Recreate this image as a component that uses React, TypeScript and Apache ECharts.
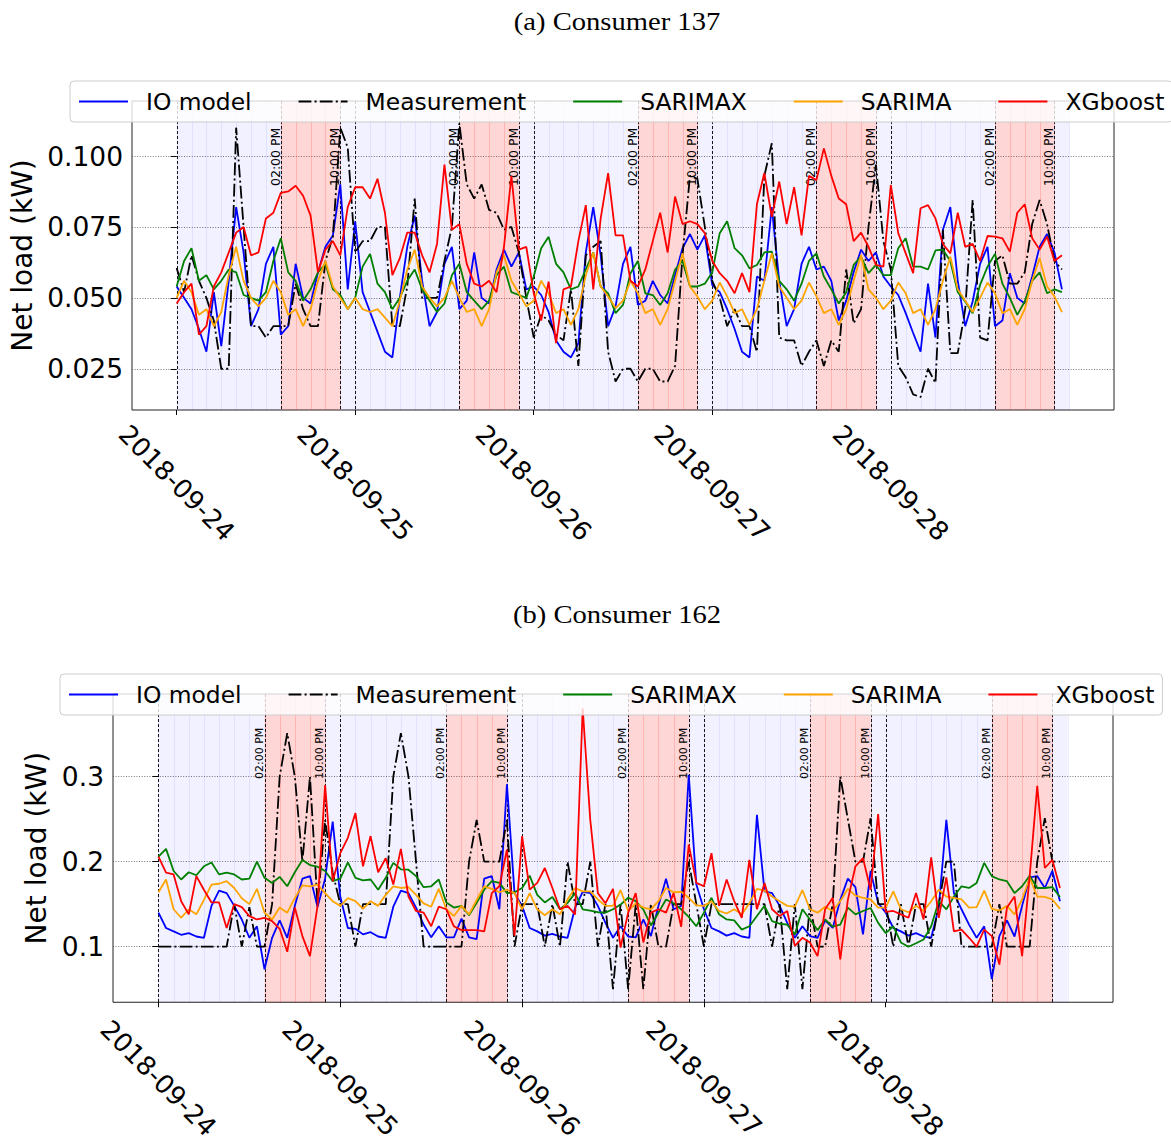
import React, { useEffect, useRef } from 'react';
import * as echarts from 'echarts';

// ---------- data ----------
const dayStarts = [0, 24, 48, 72, 96];
const dateLabels = ['2018-09-24', '2018-09-25', '2018-09-26', '2018-09-27', '2018-09-28'];
const peakStart = 14;
const peakEnd = 22;
const totalHours = 120;
const peakLabels = ['02:00 PM', '10:00 PM'];
const seriesNames = ['IO model', 'Measurement', 'SARIMAX', 'SARIMA', 'XGboost'];
const titles = ['(a) Consumer 137', '(b) Consumer 162'];
const yTicks137 = [0.025, 0.05, 0.075, 0.1];
const yTicks162 = [0.1, 0.2, 0.3];

const io137 = [
  0.054, 0.050, 0.046, 0.039, 0.031, 0.052, 0.033, 0.056, 0.082, 0.066,
  0.040, 0.046, 0.062, 0.068, 0.037, 0.040, 0.062, 0.050, 0.048, 0.059,
  0.068, 0.072, 0.090, 0.053, 0.077, 0.052, 0.045, 0.038, 0.031, 0.029,
  0.050, 0.068, 0.079, 0.056, 0.040, 0.045, 0.062, 0.068, 0.046, 0.049,
  0.066, 0.050, 0.048, 0.060, 0.067, 0.061, 0.066, 0.053, 0.054, 0.051,
  0.045, 0.035, 0.031, 0.029, 0.034, 0.066, 0.082, 0.065, 0.040, 0.047,
  0.062, 0.068, 0.0475, 0.049, 0.056, 0.051, 0.048, 0.058, 0.0675, 0.0725,
  0.067, 0.072, 0.0545, 0.052, 0.046, 0.039, 0.031, 0.029, 0.0575, 0.056,
  0.082, 0.056, 0.040, 0.046, 0.062, 0.068, 0.060, 0.061, 0.056, 0.042,
  0.049, 0.059, 0.067, 0.063, 0.066, 0.0575, 0.054, 0.051, 0.0446, 0.0376,
  0.031, 0.055, 0.036, 0.074, 0.082, 0.056, 0.040, 0.0487, 0.062, 0.068,
  0.040, 0.042, 0.0587, 0.050, 0.048, 0.0575, 0.068, 0.0725, 0.066, 0.053,
];
const meas137 = [
  0.0605, 0.052, 0.065, 0.056, 0.050, 0.042, 0.025, 0.025, 0.110, 0.075,
  0.040, 0.040, 0.036, 0.040, 0.040, 0.040, 0.055, 0.046, 0.040, 0.040,
  0.063, 0.0715, 0.110, 0.103, 0.066, 0.070, 0.070, 0.075, 0.075, 0.040,
  0.040, 0.054, 0.085, 0.050, 0.050, 0.050, 0.063, 0.075, 0.1115, 0.090,
  0.085, 0.090, 0.081, 0.080, 0.074, 0.075, 0.066, 0.050, 0.036, 0.044,
  0.042, 0.037, 0.035, 0.053, 0.026, 0.065, 0.068, 0.070, 0.031, 0.0205,
  0.025, 0.025, 0.0205, 0.025, 0.025, 0.0205, 0.0205, 0.026, 0.065, 0.093,
  0.092, 0.075, 0.056, 0.050, 0.040, 0.046, 0.040, 0.040, 0.031, 0.093,
  0.1045, 0.036, 0.035, 0.035, 0.026, 0.031, 0.035, 0.026, 0.035, 0.031,
  0.060, 0.041, 0.046, 0.075, 0.097, 0.070, 0.060, 0.026, 0.022, 0.016,
  0.015, 0.025, 0.020, 0.074, 0.0305, 0.0305, 0.046, 0.0845, 0.036, 0.035,
  0.063, 0.065, 0.055, 0.055, 0.059, 0.076, 0.0845, 0.076, 0.063, 0.060,
];
const sarimax137 = [
  0.054, 0.063, 0.0675, 0.056, 0.058, 0.053, 0.056, 0.060, 0.059, 0.051,
  0.050, 0.049, 0.052, 0.063, 0.071, 0.059, 0.056, 0.049, 0.053, 0.059,
  0.062, 0.053, 0.051, 0.046, 0.050, 0.061, 0.0655, 0.055, 0.052, 0.046,
  0.050, 0.056, 0.060, 0.053, 0.049, 0.045, 0.048, 0.058, 0.062, 0.052,
  0.049, 0.046, 0.049, 0.058, 0.061, 0.052, 0.051, 0.050, 0.0575, 0.0675,
  0.0715, 0.062, 0.059, 0.053, 0.054, 0.060, 0.066, 0.054, 0.0516, 0.0446,
  0.0475, 0.0587, 0.063, 0.0516, 0.051, 0.0475, 0.0516, 0.060, 0.063, 0.054,
  0.054, 0.055, 0.059, 0.0728, 0.077, 0.0675, 0.065, 0.0604, 0.0616, 0.066,
  0.0663, 0.056, 0.053, 0.049, 0.055, 0.063, 0.0657, 0.0575, 0.053, 0.048,
  0.052, 0.0616, 0.0645, 0.0587, 0.0616, 0.058, 0.058, 0.0675, 0.071, 0.061,
  0.061, 0.060, 0.0667, 0.067, 0.063, 0.052, 0.0487, 0.0446, 0.0546, 0.061,
  0.0655, 0.055, 0.050, 0.044, 0.0487, 0.056, 0.059, 0.0516, 0.053, 0.052,
];
const sarima137 = [
  0.050, 0.056, 0.052, 0.044, 0.046, 0.040, 0.045, 0.058, 0.068, 0.056,
  0.050, 0.047, 0.050, 0.056, 0.052, 0.044, 0.046, 0.040, 0.046, 0.056,
  0.063, 0.054, 0.050, 0.046, 0.050, 0.046, 0.045, 0.046, 0.043, 0.040,
  0.049, 0.060, 0.067, 0.054, 0.050, 0.047, 0.050, 0.056, 0.050, 0.045,
  0.046, 0.040, 0.046, 0.059, 0.065, 0.056, 0.0516, 0.047, 0.049, 0.056,
  0.0516, 0.0446, 0.046, 0.0405, 0.046, 0.058, 0.066, 0.054, 0.0505, 0.0464,
  0.049, 0.056, 0.0516, 0.0446, 0.046, 0.0405, 0.046, 0.056, 0.0657, 0.054,
  0.0505, 0.046, 0.049, 0.0554, 0.0505, 0.0446, 0.046, 0.0405, 0.046, 0.056,
  0.0657, 0.054, 0.050, 0.046, 0.049, 0.0554, 0.0505, 0.0446, 0.046, 0.0405,
  0.046, 0.056, 0.065, 0.053, 0.050, 0.046, 0.049, 0.0554, 0.0516, 0.0446,
  0.046, 0.0405, 0.046, 0.056, 0.0645, 0.053, 0.049, 0.045, 0.050, 0.0554,
  0.0516, 0.0446, 0.046, 0.0405, 0.046, 0.056, 0.064, 0.054, 0.0505, 0.045,
];
const xgb137 = [
  0.048, 0.052, 0.055, 0.037, 0.040, 0.054, 0.059, 0.066, 0.073, 0.075,
  0.065, 0.066, 0.078, 0.080, 0.087, 0.0875, 0.0895, 0.086, 0.079, 0.059,
  0.067, 0.070, 0.065, 0.082, 0.089, 0.089, 0.085, 0.092, 0.080, 0.058,
  0.064, 0.073, 0.073, 0.065, 0.059, 0.069, 0.097, 0.074, 0.076, 0.062,
  0.055, 0.054, 0.056, 0.052, 0.068, 0.093, 0.067, 0.068, 0.0516, 0.042,
  0.0557, 0.034, 0.053, 0.054, 0.070, 0.0827, 0.053, 0.078, 0.094, 0.072,
  0.072, 0.056, 0.054, 0.060, 0.070, 0.080, 0.066, 0.0857, 0.076, 0.077,
  0.076, 0.0728, 0.063, 0.0587, 0.056, 0.0516, 0.0587, 0.052, 0.083, 0.094,
  0.0786, 0.091, 0.076, 0.089, 0.072, 0.093, 0.0915, 0.1027, 0.093, 0.085,
  0.083, 0.070, 0.073, 0.068, 0.0616, 0.061, 0.0898, 0.0728, 0.0657, 0.0587,
  0.0816, 0.0827, 0.078, 0.069, 0.0657, 0.080, 0.068, 0.069, 0.063, 0.0718,
  0.0716, 0.071, 0.0663, 0.080, 0.083, 0.071, 0.067, 0.0716, 0.063, 0.065,
];

const io162 = [
  0.140, 0.122, 0.118, 0.114, 0.116, 0.112, 0.1105, 0.148, 0.166, 0.163,
  0.148, 0.132, 0.1105, 0.124, 0.0735, 0.1105, 0.131, 0.1105, 0.148, 0.180,
  0.183, 0.1465, 0.180, 0.247, 0.159, 0.122, 0.121, 0.1145, 0.117, 0.112,
  0.1105, 0.147, 0.166, 0.163, 0.146, 0.126, 0.111, 0.124, 0.111, 0.111,
  0.133, 0.111, 0.109, 0.180, 0.183, 0.144, 0.291, 0.163, 0.148, 0.122,
  0.118, 0.113, 0.115, 0.112, 0.1105, 0.146, 0.1645, 0.163, 0.148, 0.128,
  0.1105, 0.124, 0.112, 0.111, 0.132, 0.1125, 0.148, 0.180, 0.144, 0.148,
  0.302, 0.173, 0.144, 0.122, 0.118, 0.113, 0.116, 0.112, 0.1105, 0.255,
  0.165, 0.163, 0.148, 0.128, 0.1105, 0.124, 0.1125, 0.1105, 0.131, 0.122,
  0.155, 0.180, 0.170, 0.1145, 0.189, 0.1515, 0.140, 0.122, 0.118, 0.113,
  0.116, 0.112, 0.1105, 0.146, 0.249, 0.163, 0.144, 0.126, 0.1105, 0.124,
  0.062, 0.1125, 0.131, 0.112, 0.148, 0.1815, 0.183, 0.169, 0.189, 0.1535,
];
const meas162 = [
  0.10, 0.10, 0.10, 0.10, 0.10, 0.10, 0.10, 0.10, 0.10, 0.10,
  0.150, 0.10, 0.1465, 0.10, 0.10, 0.150, 0.30, 0.351, 0.30, 0.20,
  0.30, 0.15, 0.249, 0.187, 0.15, 0.15, 0.10, 0.15, 0.15, 0.15,
  0.15, 0.30, 0.351, 0.30, 0.20, 0.10, 0.10, 0.10, 0.10, 0.10,
  0.10, 0.20, 0.249, 0.20, 0.20, 0.20, 0.249, 0.10, 0.15, 0.15,
  0.15, 0.10, 0.15, 0.10, 0.20, 0.15, 0.15, 0.20, 0.10, 0.15,
  0.05, 0.15, 0.05, 0.15, 0.05, 0.15, 0.10, 0.10, 0.15, 0.15,
  0.20, 0.15, 0.10, 0.15, 0.15, 0.15, 0.15, 0.15, 0.15, 0.15,
  0.15, 0.10, 0.15, 0.05, 0.15, 0.05, 0.15, 0.10, 0.10, 0.15,
  0.30, 0.25, 0.20, 0.20, 0.251, 0.15, 0.15, 0.10, 0.15, 0.10,
  0.15, 0.15, 0.10, 0.15, 0.20, 0.20, 0.10, 0.10, 0.10, 0.10,
  0.10, 0.15, 0.10, 0.10, 0.10, 0.10, 0.20, 0.251, 0.20, 0.20,
];
const sarimax162 = [
  0.206, 0.215, 0.189, 0.179, 0.1875, 0.184, 0.1945, 0.199, 0.185, 0.187,
  0.185, 0.179, 0.180, 0.200, 0.181, 0.175, 0.182, 0.171, 0.1875, 0.202,
  0.196, 0.194, 0.189, 0.177, 0.180, 0.199, 0.181, 0.178, 0.179, 0.167,
  0.181, 0.1985, 0.191, 0.1905, 0.183, 0.170, 0.171, 0.179, 0.152, 0.146,
  0.148, 0.137, 0.1515, 0.167, 0.177, 0.175, 0.163, 0.164, 0.169, 0.1835,
  0.161, 0.152, 0.1585, 0.144, 0.1515, 0.163, 0.144, 0.1425, 0.1405, 0.140,
  0.144, 0.1495, 0.1575, 0.1535, 0.144, 0.125, 0.140, 0.1555, 0.151, 0.144,
  0.135, 0.124, 0.140, 0.1575, 0.138, 0.132, 0.131, 0.120, 0.124, 0.136,
  0.148, 0.130, 0.127, 0.126, 0.1145, 0.144, 0.132, 0.1195, 0.132, 0.1235,
  0.126, 0.146, 0.138, 0.142, 0.1455, 0.128, 0.116, 0.124, 0.105, 0.100,
  0.104, 0.1085, 0.124, 0.1535, 0.144, 0.159, 0.171, 0.169, 0.175, 0.1985,
  0.183, 0.179, 0.177, 0.163, 0.171, 0.1835, 0.169, 0.169, 0.170, 0.1585,
];
const sarima162 = [
  0.164, 0.179, 0.144, 0.134, 0.144, 0.138, 0.155, 0.173, 0.174, 0.177,
  0.169, 0.157, 0.150, 0.168, 0.140, 0.132, 0.146, 0.140, 0.157, 0.172,
  0.171, 0.173, 0.163, 0.1535, 0.148, 0.157, 0.1535, 0.1445, 0.1535, 0.148,
  0.161, 0.171, 0.169, 0.170, 0.161, 0.151, 0.147, 0.168, 0.144, 0.136,
  0.148, 0.138, 0.155, 0.171, 0.168, 0.164, 0.167, 0.163, 0.144, 0.163,
  0.144, 0.137, 0.144, 0.138, 0.1555, 0.169, 0.165, 0.165, 0.1555, 0.148,
  0.148, 0.1665, 0.142, 0.151, 0.146, 0.144, 0.1535, 0.169, 0.164, 0.1645,
  0.1575, 0.1485, 0.148, 0.1535, 0.142, 0.139, 0.144, 0.138, 0.151, 0.168,
  0.166, 0.159, 0.1535, 0.148, 0.147, 0.1665, 0.144, 0.140, 0.147, 0.142,
  0.1535, 0.168, 0.160, 0.1575, 0.1555, 0.146, 0.146, 0.165, 0.144, 0.1405,
  0.148, 0.142, 0.1535, 0.167, 0.159, 0.1575, 0.1555, 0.146, 0.1465, 0.166,
  0.1445, 0.1425, 0.148, 0.138, 0.1555, 0.181, 0.159, 0.1585, 0.1555, 0.1445,
];
const xgb162 = [
  0.206, 0.187, 0.185, 0.1535, 0.138, 0.183, 0.167, 0.152, 0.152, 0.122,
  0.150, 0.1465, 0.136, 0.132, 0.134, 0.130, 0.121, 0.094, 0.146, 0.1125,
  0.089, 0.148, 0.290, 0.177, 0.210, 0.228, 0.257, 0.1945, 0.230, 0.1875,
  0.204, 0.173, 0.215, 0.159, 0.142, 0.140, 0.124, 0.147, 0.144, 0.124,
  0.1195, 0.1195, 0.1195, 0.118, 0.163, 0.171, 0.214, 0.113, 0.230, 0.167,
  0.175, 0.1925, 0.169, 0.144, 0.148, 0.138, 0.380, 0.249, 0.163, 0.151,
  0.168, 0.099, 0.140, 0.163, 0.105, 0.140, 0.144, 0.140, 0.163, 0.1235,
  0.220, 0.175, 0.171, 0.210, 0.148, 0.179, 0.1535, 0.134, 0.202, 0.144,
  0.175, 0.144, 0.136, 0.142, 0.101, 0.1105, 0.105, 0.089, 0.144, 0.1575,
  0.085, 0.155, 0.1945, 0.204, 0.167, 0.256, 0.141, 0.142, 0.138, 0.134,
  0.163, 0.132, 0.205, 0.134, 0.1815, 0.118, 0.120, 0.1105, 0.100, 0.120,
  0.1125, 0.079, 0.146, 0.159, 0.089, 0.183, 0.289, 0.1925, 0.202, 0.169,
];

// ---------- styling ----------
const FONT = 'DejaVu Sans';
const colors = ['#0000ff', '#000000', '#008000', '#ffa500', '#ff0000'];
const lineTypes: any[] = ['solid', [12.8, 3.2, 2, 3.2], 'solid', 'solid', 'solid'];

const panels = [
  {
    grid: { left: 132, top: 101, width: 982, height: 309 },
    yMin: 0.01046, yMax: 0.1194, yTicks: yTicks137, digits: 3, nameGap: 92,
    data: [io137, meas137, sarimax137, sarima137, xgb137],
    legend: { left: 70, top: 81 }, labelMargin: 73, vFont: 12.5, vOffset: 6.5,
    titleY: 21,
  },
  {
    grid: { left: 113, top: 694, width: 1000, height: 309 },
    yMin: 0.0347, yMax: 0.397, yTicks: yTicks162, digits: 1, nameGap: 56,
    data: [io162, meas162, sarimax162, sarima162, xgb162],
    legend: { left: 60, top: 674 }, labelMargin: 76, vFont: 11, vOffset: 6,
    titleY: 614,
  },
];

// shading spans (start, end) in hours
const redSpans = dayStarts.map((d) => [d + peakStart, d + peakEnd]);
const blueSpans: number[][] = [];
{
  let s = 0;
  redSpans.forEach(([a, b]) => { blueSpans.push([s, a]); s = b; });
  blueSpans.push([s, totalHours]);
}
const vLines: number[][] = [];
dayStarts.forEach((d) => {
  vLines.push([d, -1]);
  vLines.push([d + peakStart, 0]);
  vLines.push([d + peakEnd, 1]);
});

function spanSeries(gi: number, yRef: number, spans: number[][], fill: string, edge: string) {
  return {
    type: 'custom',
    xAxisIndex: gi,
    yAxisIndex: gi,
    silent: true,
    z: 1,
    data: spans,
    renderItem: (params: any, api: any) => {
      const cs = params.coordSys;
      const s = api.value(0);
      const e = api.value(1);
      const x0 = api.coord([s, yRef])[0];
      const x1 = api.coord([e, yRef])[0];
      const children: any[] = [
        { type: 'rect', shape: { x: x0, y: cs.y, width: x1 - x0, height: cs.height }, style: { fill } },
      ];
      for (let h = s; h <= e; h += 2) {
        const x = Math.round(api.coord([h, yRef])[0]) + 0.5;
        children.push({
          type: 'line',
          shape: { x1: x, y1: cs.y, x2: x, y2: cs.y + cs.height },
          style: { stroke: edge, lineWidth: 1 },
        });
      }
      return { type: 'group', children };
    },
  };
}

function vLineSeries(gi: number, yRef: number, fontSize: number, offset: number) {
  return {
    type: 'custom',
    xAxisIndex: gi,
    yAxisIndex: gi,
    silent: true,
    z: 2,
    data: vLines,
    renderItem: (params: any, api: any) => {
      const cs = params.coordSys;
      const h = api.value(0);
      const li = api.value(1);
      const x = Math.round(api.coord([h, yRef])[0]) + 0.5;
      const children: any[] = [
        {
          type: 'line',
          shape: { x1: x, y1: cs.y, x2: x, y2: cs.y + cs.height },
          style: { stroke: '#000', lineWidth: 0.9, lineDash: [3, 2] },
        },
      ];
      if (li >= 0) {
        children.push({
          type: 'text',
          x: x - offset,
          y: cs.y + 85,
          rotation: Math.PI / 2,
          style: {
            text: peakLabels[li],
            fontSize,
            fontFamily: FONT,
            fill: '#000',
            align: 'left',
            verticalAlign: 'middle',
          },
        });
      }
      return { type: 'group', children };
    },
  };
}

function buildOption() {
  const series: any[] = [];
  panels.forEach((p, gi) => {
    series.push(spanSeries(gi, p.yMin, blueSpans, 'rgba(0,0,255,0.055)', 'rgba(0,0,255,0.07)'));
    series.push(spanSeries(gi, p.yMin, redSpans, 'rgba(255,0,0,0.16)', 'rgba(255,0,0,0.16)'));
    series.push(vLineSeries(gi, p.yMin, p.vFont, p.vOffset));
    seriesNames.forEach((name, si) => {
      series.push({
        type: 'line',
        name,
        xAxisIndex: gi,
        yAxisIndex: gi,
        data: p.data[si].map((v, i) => [i, v]),
        symbol: 'none',
        silent: true,
        z: 3,
        lineStyle: { color: colors[si], width: 1.8, type: lineTypes[si] },
        itemStyle: { color: colors[si] },
      });
    });
  });

  return {
    animation: false,
    backgroundColor: '#ffffff',
    grid: panels.map((p) => ({
      ...p.grid,
      show: true,
      borderColor: '#222',
      borderWidth: 1,
      backgroundColor: 'rgba(0,0,0,0)',
    })),
    xAxis: panels.map((p, i) => ({
      type: 'value',
      gridIndex: i,
      min: -6,
      max: 126,
      axisLine: { show: false },
      splitLine: { show: false },
      axisTick: { show: true, customValues: dayStarts, length: 5, lineStyle: { color: '#000', width: 1 } },
      axisLabel: {
        customValues: dayStarts,
        formatter: (v: number) => dateLabels[Math.round(v / 24)],
        rotate: -45,
        align: 'center',
        verticalAlign: 'middle',
        margin: p.labelMargin,
        fontSize: 26,
        fontFamily: FONT,
        color: '#000',
      },
    })),
    yAxis: panels.map((p, i) => ({
      type: 'value',
      gridIndex: i,
      min: p.yMin,
      max: p.yMax,
      name: 'Net load (kW)',
      nameLocation: 'middle',
      nameGap: p.nameGap,
      nameTextStyle: { fontSize: 28, fontFamily: FONT, color: '#000' },
      axisLine: { show: false },
      axisTick: { show: true, customValues: p.yTicks, length: 6, lineStyle: { color: '#000', width: 1 } },
      axisLabel: {
        customValues: p.yTicks,
        formatter: (v: number) => v.toFixed(p.digits),
        margin: 9,
        fontSize: 26.5,
        fontFamily: FONT,
        color: '#000',
      },
      splitLine: { show: true, lineStyle: { color: '#555', width: 0.8, type: [1, 1.6] } },
    })),
    legend: panels.map((p) => ({
      data: seriesNames,
      left: p.legend.left,
      top: p.legend.top,
      width: 1160,
      orient: 'horizontal',
      itemWidth: 49,
      itemHeight: 14,
      itemGap: 46,
      padding: [6, 8, 6, 8],
      backgroundColor: 'rgba(255,255,255,0.8)',
      borderColor: '#cccccc',
      borderWidth: 1,
      borderRadius: 4,
      selectedMode: false,
      itemStyle: { opacity: 0 },
      textStyle: { fontSize: 23.4, fontFamily: FONT, color: '#000', padding: [0, 0, 0, 13], lineHeight: 29 },
    })),
    graphic: panels.map((p, i) => ({
      type: 'text',
      x: 617,
      y: p.titleY,
      scaleX: 1.1,
      style: {
        text: titles[i],
        fontSize: 26,
        fontFamily: 'Liberation Serif',
        fill: '#000',
        align: 'center',
        verticalAlign: 'middle',
      },
    })),
    series,
  };
}

export default function App() {
  const ref = useRef<HTMLDivElement>(null);
  useEffect(() => {
    if (!ref.current) return;
    const chart = echarts.init(ref.current, undefined, { renderer: 'svg' });
    chart.setOption(buildOption() as any);
    return () => chart.dispose();
  }, []);
  return (
    <div
      ref={ref}
      style={{ position: 'absolute', left: 0, top: 0, width: 1171, height: 1143, background: '#fff' }}
    />
  );
}
